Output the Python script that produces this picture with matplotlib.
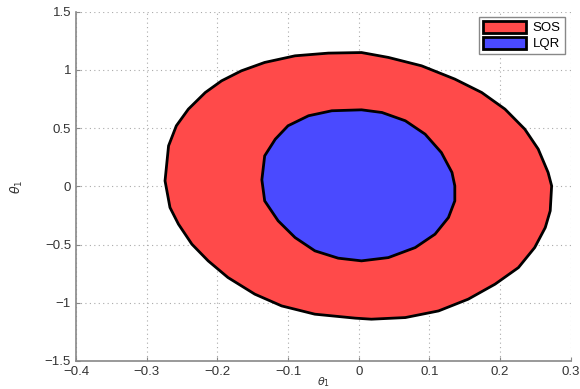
import matplotlib
matplotlib.use("Agg")
import matplotlib.pyplot as plt

# Region boundaries (theta_1, theta_1 rate) traced as closed polygons
sos_x = [0.004, 0.042, 0.089, 0.136, 0.174, 0.207, 0.235, 0.254, 0.268, 0.273,
         0.271, 0.264, 0.249, 0.226, 0.193, 0.155, 0.113, 0.066, 0.018, -0.005,
         -0.062, -0.109, -0.147, -0.185, -0.213, -0.236, -0.255, -0.267, -0.274, -0.269,
         -0.258, -0.241, -0.217, -0.194, -0.166, -0.133, -0.090, -0.043]
sos_y = [1.149, 1.107, 1.035, 0.921, 0.806, 0.663, 0.491, 0.320, 0.119, 0.004,
         -0.210, -0.354, -0.526, -0.698, -0.840, -0.969, -1.070, -1.127, -1.141, -1.132,
         -1.098, -1.027, -0.926, -0.783, -0.640, -0.497, -0.325, -0.182, 0.047, 0.348,
         0.520, 0.663, 0.806, 0.906, 0.992, 1.064, 1.121, 1.144]

lqr_x = [0.004, 0.033, 0.066, 0.094, 0.117, 0.132, 0.136, 0.136, 0.127, 0.108,
         0.080, 0.042, 0.004, -0.029, -0.062, -0.090, -0.114, -0.133, -0.137, -0.133,
         -0.118, -0.100, -0.071, -0.038]
lqr_y = [0.657, 0.634, 0.563, 0.448, 0.290, 0.119, 0.004, -0.125, -0.268, -0.411,
         -0.526, -0.612, -0.640, -0.617, -0.554, -0.440, -0.296, -0.125, 0.056, 0.262,
         0.405, 0.520, 0.606, 0.649]

x_ticks = [-0.4, -0.3, -0.2, -0.1, 0.0, 0.1, 0.2, 0.3]
x_tick_labels = ["\u22120.4", "\u22120.3", "\u22120.2", "\u22120.1", "0", "0.1", "0.2", "0.3"]
y_ticks = [-1.5, -1.0, -0.5, 0.0, 0.5, 1.0, 1.5]
y_tick_labels = ["\u22121.5", "\u22121", "\u22120.5", "0", "0.5", "1", "1.5"]

plt.rcParams["font.family"] = ["Liberation Sans", "DejaVu Sans"]

fig = plt.figure(figsize=(5.8, 3.89), dpi=100)
ax = fig.add_axes([0.131, 0.072, 0.853, 0.898])

ax.fill(sos_x, sos_y, facecolor="#ff4a4a", edgecolor="black", linewidth=2, label="SOS", zorder=2)
ax.fill(lqr_x, lqr_y, facecolor="#4a4aff", edgecolor="black", linewidth=2, label="LQR", zorder=3)

ax.set_xlim(-0.4, 0.3)
ax.set_ylim(-1.5, 1.5)
ax.set_xticks(x_ticks)
ax.set_xticklabels(x_tick_labels)
ax.set_yticks(y_ticks)
ax.set_yticklabels(y_tick_labels)
ax.tick_params(direction="in", length=3, color="#888888", labelcolor="#333333", labelsize=9.5)

ax.grid(True, linestyle=(0, (1, 3)), color="#aaaaaa", linewidth=0.8, zorder=0)
ax.set_axisbelow(True)
for side in ("top", "right"):
    ax.spines[side].set_visible(False)
for side in ("left", "bottom"):
    ax.spines[side].set_color("#888888")
    ax.spines[side].set_linewidth(1.2)

ax.set_xlabel(r"$\theta_1$", fontsize=8, color="#333333")
ax.xaxis.set_label_coords(0.5, -0.042)
ax.set_ylabel(r"$\theta_1$", fontsize=9, color="#333333", labelpad=14)

leg = ax.legend(loc="upper right", fontsize=9.5, fancybox=False, framealpha=1,
                edgecolor="#888888", handlelength=3.3, handleheight=1.0,
                borderpad=0.3, labelspacing=0.2, handletextpad=0.5,
                borderaxespad=0, bbox_to_anchor=(0.988, 0.985))
leg.get_frame().set_linewidth(1.0)

fig.savefig("out.png", dpi=100)
